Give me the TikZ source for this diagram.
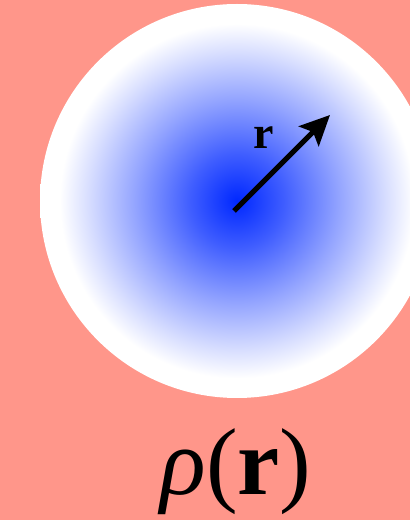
\documentclass[tikz,border=0pt]{standalone}
\usepackage{fontspec}
\setmainfont{Liberation Serif}
\usetikzlibrary{arrows.meta}
\definecolor{bg}{RGB}{255,150,138}
\definecolor{core}{RGB}{0,40,255}
\pgfdeclareradialshading{ballshade}{\pgfpoint{0bp}{0bp}}{color(0bp)=(core); color(6bp)=(core!75!white); color(13bp)=(core!42!white); color(19bp)=(core!15!white); color(22.5bp)=(white); color(25bp)=(white); color(50bp)=(white)}
\tikzset{
  vec/.style={line width=5pt, -{Stealth[length=30pt,width=28pt,inset=6pt]}},
  lbl/.style={inner sep=0pt, font=\fontsize{46}{46}\selectfont\bfseries},
  title/.style={inner sep=0pt, anchor=base, font=\fontsize{95}{95}\selectfont}
}
\begin{document}
\begin{tikzpicture}[x=1pt,y=1pt]
\useasboundingbox (0,0) rectangle (410,520);
\fill[bg] (0,0) rectangle (410,520);
\begin{scope}
\clip (0,0) rectangle (410,520);
\shade[shading=ballshade] (237,319) circle (197);
\end{scope}
\coordinate (o) at (234,309);
\coordinate (tip) at (330,405);
\draw[vec] (o) -- (tip);
\node[lbl] (r) at (264,382) {r};
\node[title] (rho) at (236,25) {\textit{ρ}(\textbf{r})};
\end{tikzpicture}
\end{document}
